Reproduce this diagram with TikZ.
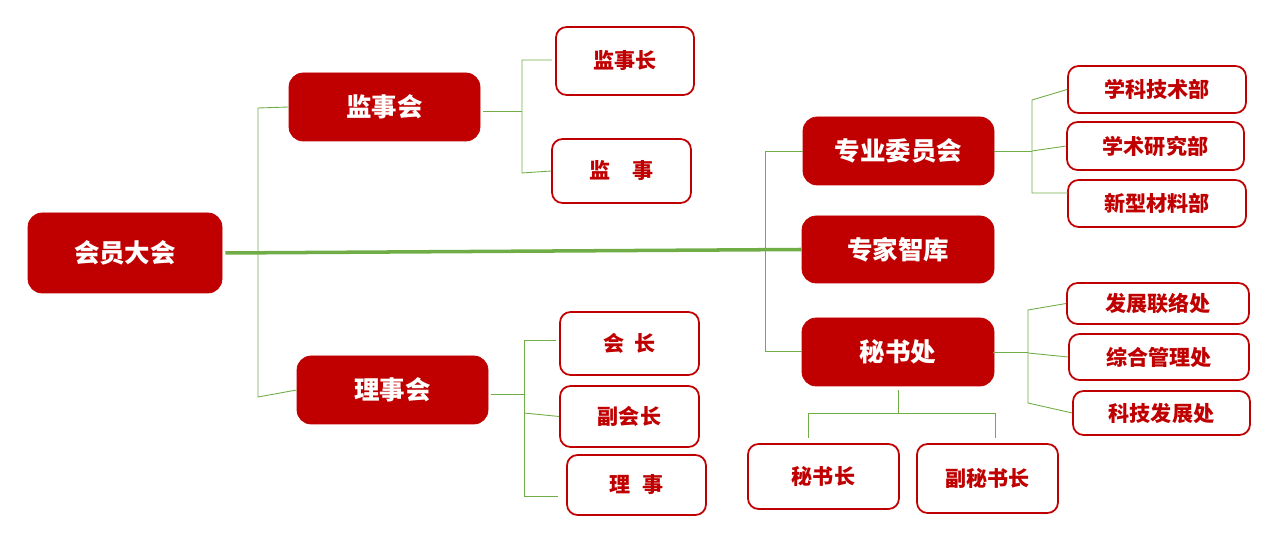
\documentclass[tikz,border=0pt]{standalone}
\usepackage{fontspec}
\newfontfamily\cjk{Noto Sans CJK SC}
\definecolor{dr}{HTML}{C00000}
\definecolor{gl}{HTML}{70AD47}
\newcommand{\mybox}[7]{\node[#6, minimum width={(#4-#2)*0.02cm}, minimum height={(#5-#3)*0.02cm}] (#1) at ({(#2+#4)/2},{(#3+#5)/2}) {#7};}
\begin{document}
\begin{tikzpicture}[x=0.02cm,y=-0.02cm,
  fb/.style={fill=dr,draw=dr,rounded corners=8pt,inner sep=0pt,text=white,font=\cjk\bfseries\fontsize{14.5}{16}\selectfont},
  wb/.style={fill=white,draw=dr,line width=1pt,rounded corners=6pt,inner sep=0pt,text=dr,font=\cjk\bfseries\fontsize{12}{14}\selectfont},
  ln/.style={draw=gl,line width=0.5pt}]
\useasboundingbox (0,0) rectangle (1276,546);
\mybox{hy}{28}{213}{222}{293}{fb}{\raisebox{-4pt}{会员大会}}
\mybox{js}{289}{73}{480}{141}{fb}{监事会}
\mybox{ls}{297}{356}{488}{424}{fb}{理事会}
\mybox{jsz}{556}{27}{694}{95}{wb}{监事长}
\mybox{jsj}{552}{139}{691}{203}{wb}{监\hspace{1em}事}
\mybox{hz}{560}{312}{699}{375}{wb}{会\hspace{0.5em}长}
\mybox{fhz}{560}{386}{699}{447}{wb}{副会长}
\mybox{lsj}{567}{455}{706}{515}{wb}{理\hspace{0.6em}事}
\mybox{zy}{803}{117}{994}{185}{fb}{专业委员会}
\mybox{zj}{802}{216}{994}{283}{fb}{专家智库}
\mybox{ms}{802}{318}{994}{386}{fb}{秘书处}
\mybox{xk}{1068}{66}{1246}{113}{wb}{学科技术部}
\mybox{xs}{1067}{122}{1244}{170}{wb}{学术研究部}
\mybox{xx}{1068}{180}{1246}{227}{wb}{新型材料部}
\mybox{fz}{1067}{283}{1249}{324}{wb}{发展联络处}
\mybox{zh}{1069}{334}{1249}{380}{wb}{综合管理处}
\mybox{kj}{1073}{391}{1250}{435}{wb}{科技发展处}
\mybox{msz}{748}{444}{899}{509}{wb}{秘书长}
\mybox{fms}{917}{444}{1058}{513}{wb}{副秘书长}
% main line
\draw[gl,line width=2pt] (hy.east) ++(3,0) -- (zj.west);
\draw[ln] (js.west) -- (258,108) -- (258,397) -- (ls.west);
\draw[ln] (483,111) -- (522,111);
\draw[ln] (552,60) -- (522,60) -- (522,173) -- (jsj.west);
\draw[ln] (491,394) -- (524,394);
\draw[ln] (556,340) -- (524,340) -- (524,496) -- (558,496);
\draw[ln] (524,413) -- (fhz.west);
\draw[ln] (zy.west) -- (765,151) -- (765,351) -- (802,351);
\draw[ln] (zy.east) -- (1032,151);
\draw[ln] (xk.west) -- (1032,100) -- (1032,193) -- (1068,193);
\draw[ln] (1032,151) -- (xs.west);
\draw[ln] (993,352) -- (1028,352);
\draw[ln] (fz.west) -- (1028,310) -- (1028,403) -- (kj.west);
\draw[ln] (1028,353) -- (zh.west);
\draw[ln] (898,390) -- (898,413);
\draw[ln] (808,438) -- (808,413) -- (995,413) -- (995,438);
\end{tikzpicture}
\end{document}
